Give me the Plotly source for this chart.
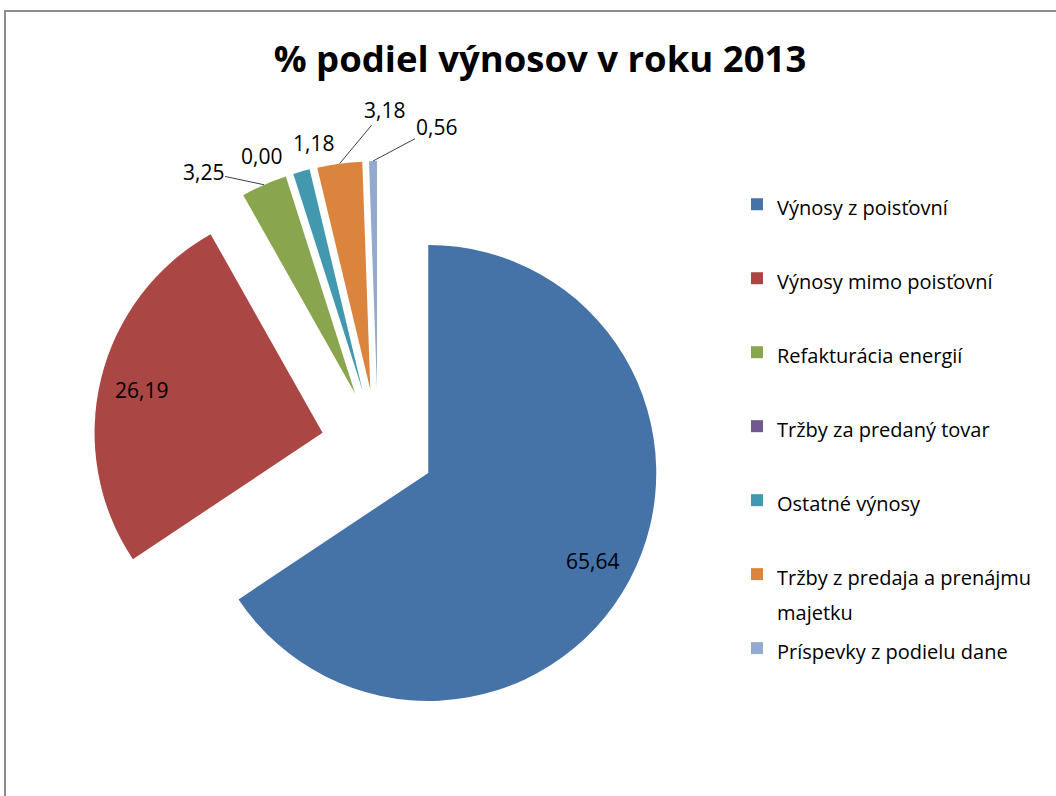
import math
import plotly.graph_objects as go

# data
labels = ["Výnosy z poisťovní", "Výnosy mimo poisťovní", "Refakturácia energií",
          "Tržby za predaný tovar", "Ostatné výnosy",
          "Tržby z predaja a prenájmu<br>majetku", "Príspevky z podielu dane"]
values = [65.64, 26.19, 3.25, 0.00, 1.18, 3.18, 0.56]
colors = ["#4572A7", "#AA4643", "#89A54E", "#71588F", "#4198AF", "#DB843D", "#93A9CF"]

W, H = 1056, 796
FONT = "Open Sans"
PULL = 0.25

# pie box (px): centre and radius incl. pull
cx, cy, R = 378, 446, 285
r = R / (1 + PULL)

# legend entries: 20px glyphs on a tall line grid, padded to 2 lines
# so the items spread down the right side like the original
legend_labels = []
for lab in labels:
    lines = lab.split("<br>")
    lines = ["<span style='font-size:20px'>%s</span>" % s for s in lines]
    lines += ["\u00a0"] * (2 - len(lines))
    legend_labels.append("<br>".join(lines))

fig = go.Figure(go.Pie(
    labels=legend_labels,
    values=values,
    textinfo="none",
    sort=False,
    direction="clockwise",
    rotation=0,
    pull=[PULL] * len(values),
    marker=dict(colors=colors, line=dict(width=0)),
    domain=dict(x=[(cx - R) / W, (cx + R) / W], y=[1 - (cy + R) / H, 1 - (cy - R) / H]),
    hoverinfo="label+value",
))

# data labels, placed along each slice's mid angle
# (label offsets in px for the small slices, None = inside the slice)
offsets = [None, None, (-61, -13), (-30, -19), (12, -28), (45, -54), (64, -34)]
leader = [False, False, True, False, False, True, True]
lab_font = dict(family=FONT, size=21, color="black")
total = sum(values)
cum = 0
annotations = []
for v, off, lead in zip(values, offsets, leader):
    ang = math.radians(360 * (cum + v / 2) / total)
    cum += v
    s, c = math.sin(ang), -math.cos(ang)
    txt = f"{v:.2f}".replace(".", ",")
    if off is None:
        d = PULL * r + 0.815 * r
        annotations.append(dict(x=(cx + d * s) / W, y=1 - (cy + d * c) / H,
                                xref="paper", yref="paper", text=txt, showarrow=False,
                                xanchor="center", yanchor="middle", font=lab_font))
    else:
        hx, hy = cx + R * s, cy + R * c
        if lead:
            annotations.append(dict(x=hx / W, y=1 - hy / H, xref="paper", yref="paper",
                                    text=txt, showarrow=True, ax=off[0], ay=off[1],
                                    arrowhead=0, arrowwidth=1, arrowcolor="#404040",
                                    standoff=0, startstandoff=0, font=lab_font))
        else:
            annotations.append(dict(x=(hx + off[0]) / W, y=1 - (hy + off[1]) / H,
                                    xref="paper", yref="paper", text=txt, showarrow=False,
                                    xanchor="center", yanchor="middle", font=lab_font))

fig.update_layout(
    width=W, height=H,
    margin=dict(l=0, r=0, t=0, b=0, autoexpand=False),
    paper_bgcolor="white",
    title=dict(text="<b>% podiel výnosov v roku 2013</b>",
               font=dict(family=FONT, size=36.5, color="black"),
               x=540 / W, xanchor="center", y=1 - 59 / H, yanchor="middle",
               yref="container"),
    legend=dict(x=737 / W, xanchor="left", y=1 - 180 / H, yanchor="top",
                valign="top", font=dict(family=FONT, size=27.3, color="black"),
                bgcolor="rgba(0,0,0,0)"),
    annotations=annotations,
    shapes=[dict(type="rect", xref="paper", yref="paper",
                 x0=5 / W, x1=1.05, y0=-0.05, y1=1 - 11 / H,
                 line=dict(color="#8c8c8c", width=2))],
)

fig.write_html("out.html", config=dict(displayModeBar=False),
               post_script="document.body.style.margin='0';")
